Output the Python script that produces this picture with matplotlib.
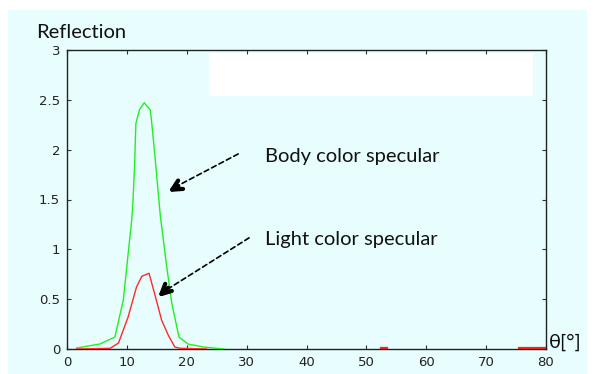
import matplotlib.pyplot as plt
import numpy as np
from matplotlib.patches import Rectangle

# body color specular (green)
body_x = [1.6, 5.5, 8.0, 9.4, 10.8, 11.0, 11.3, 11.5, 12.1, 12.9, 13.9, 14.1, 14.7, 15.2, 15.6,
          16.6, 17.5, 18.7, 20.2, 22.8, 26.2]
body_y = [0.01, 0.05, 0.12, 0.49, 1.29, 1.46, 1.86, 2.26, 2.40, 2.47, 2.40, 2.30, 1.93, 1.59, 1.33,
          0.85, 0.46, 0.12, 0.05, 0.02, 0.0]

# light color specular (red)
light_x = [1.6, 7.2, 8.6, 10.2, 11.6, 12.5, 13.7, 14.7, 15.8, 16.9, 18.0, 18.9, 23.3]
light_y = [0.0, 0.007, 0.06, 0.32, 0.62, 0.73, 0.76, 0.54, 0.29, 0.14, 0.02, 0.007, 0.0]
light_x2 = [52.5, 53.5, np.nan, 75.5, 80]
light_y2 = [0.006, 0.006, np.nan, 0.006, 0.006]

xticks = [0, 10, 20, 30, 40, 50, 60, 70, 80]
yticks = [0, 0.5, 1, 1.5, 2, 2.5, 3]
yticklabels = ['0', '0.5', '1', '1.5', '2', '2.5', '3']

bg = '#e8fdfd'
txtfont = 'Lato'

fig = plt.figure(figsize=(5.96, 3.74), dpi=100, facecolor='white')
bgrect = Rectangle((8/596, 0), 579/596, 364/374, transform=fig.transFigure,
                   facecolor=bg, edgecolor='none', zorder=-5)
fig.add_artist(bgrect)

ax = fig.add_axes([67/596, 25/374, 479/596, 299/374])
ax.set_facecolor(bg)
ax.add_patch(Rectangle((23.7, 2.54), 54.1, 0.43, facecolor='white', edgecolor='none', zorder=1))

ax.plot(body_x, body_y, color='#22ee22', lw=1.0, zorder=3)
ax.plot(light_x, light_y, color='#ff2a2a', lw=1.0, zorder=4)
ax.plot(light_x2, light_y2, color='#ee2222', lw=1.6, zorder=4)

ax.set_xlim(0, 80)
ax.set_ylim(0, 3)
ax.set_xticks(xticks)
ax.set_yticks(yticks)
ax.set_yticklabels(yticklabels)
ax.tick_params(direction='in', top=True, right=True, length=3, width=0.8,
               labelsize=9.5, labelcolor='#222222', color='#333333', pad=5)
for s in ax.spines.values():
    s.set_color('#222222')
    s.set_linewidth(1.0)

# arrows
head = dict(arrowstyle='->,head_length=0.7,head_width=0.35', lw=3.0, color='black',
            shrinkA=0, shrinkB=0)
ax.annotate('', xy=(17.6, 1.61), xytext=(29.0, 1.97),
            arrowprops=dict(arrowstyle='-', linestyle=(0, (3, 2)), lw=1.2, color='black'))
ax.annotate('', xy=(16.9, 1.575), xytext=(18.6, 1.635), arrowprops=head)
ax.annotate('', xy=(16.0, 0.57), xytext=(30.8, 1.13),
            arrowprops=dict(arrowstyle='-', linestyle=(0, (3, 2)), lw=1.2, color='black'))
ax.annotate('', xy=(15.2, 0.52), xytext=(16.9, 0.615), arrowprops=head)

ax.text(33.1, 1.93, 'Body color specular', fontsize=14.5, family=txtfont, va='center', ha='left', color='#111111')
ax.text(33.1, 1.10, 'Light color specular', fontsize=14.5, family=txtfont, va='center', ha='left', color='#111111')

fig.text(36/596, 1 - 33/374, 'Reflection', fontsize=14.5, family=txtfont, va='center', ha='left', color='#111111')
fig.text(549/596, 1 - 342/374, 'θ[°]', fontsize=14.5, family=txtfont, va='center', ha='left', color='#111111')

fig.savefig('out.png', dpi=100, facecolor='white')
